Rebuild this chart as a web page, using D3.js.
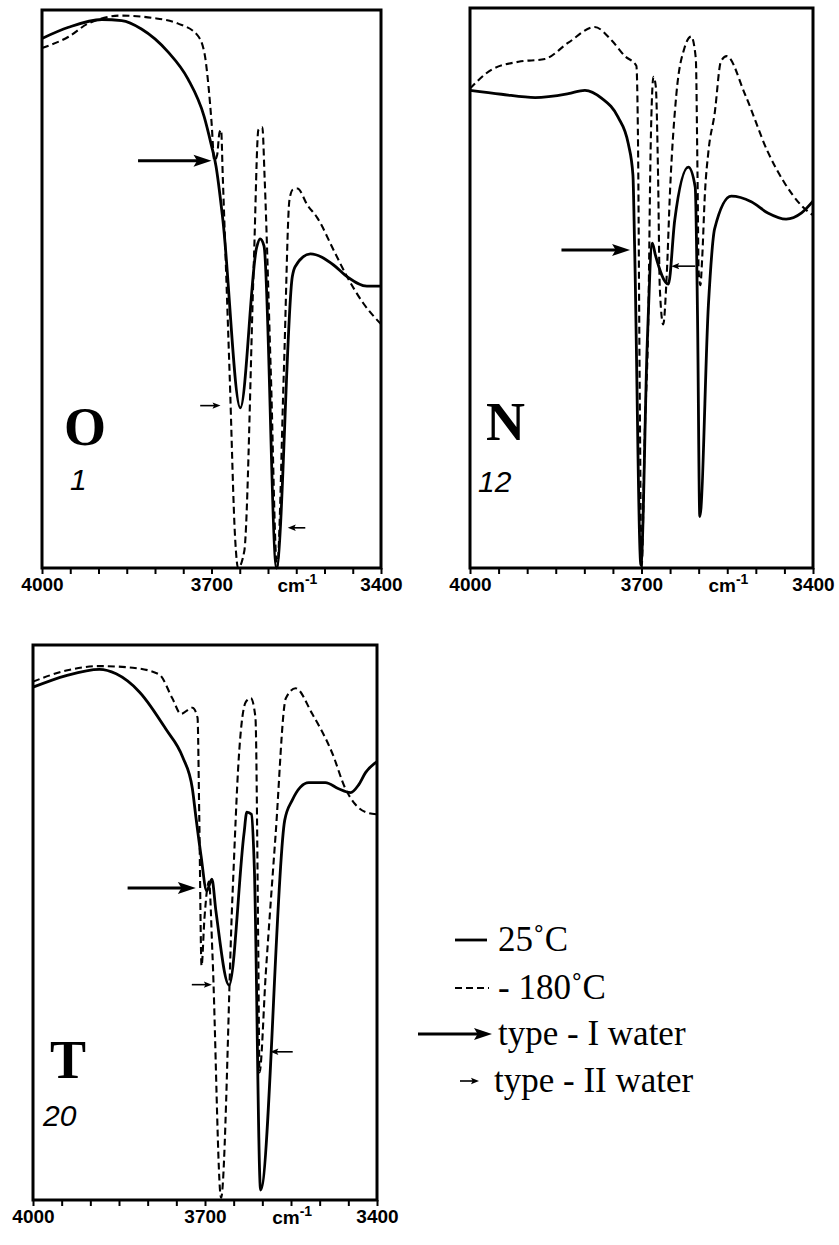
<!DOCTYPE html>
<html lang="en">
<head>
<meta charset="UTF-8">
<title>OH stretching spectra</title>
<script src="https://d3js.org/d3.v7.min.js"></script>
<style>
  body { margin: 0; background: #fff; }
  svg { display: block; }
  .frame { fill: none; stroke: #000; stroke-width: 3; }
  .solid { fill: none; stroke: #000; stroke-width: 2.8; stroke-linejoin: round; }
  .dashed { fill: none; stroke: #000; stroke-width: 2.1; stroke-dasharray: 7,4; }
  .tick line { stroke: #000; stroke-width: 2; }
  .tick text { font-family: "Liberation Sans", Arial, sans-serif; font-weight: bold; font-size: 19px; fill: #000; }
  .domain { display: none; }
  .unit { font-family: "Liberation Sans", Arial, sans-serif; font-weight: bold; font-size: 19px; }
  .letter { font-family: "Liberation Serif", "Times New Roman", serif; font-weight: bold; font-size: 54px; }
  .num { font-family: "Liberation Sans", Arial, sans-serif; font-style: italic; font-size: 30px; }
  .legend { font-family: "Liberation Serif", "Times New Roman", serif; font-size: 35px; }
</style>
</head>
<body>
<div id="chart"></div>
<script>
// wavenumber ticks (cm-1) and which ones get a label
const tickWn = [4000, 3950, 3900, 3850, 3800, 3750, 3700, 3650, 3600, 3550, 3500, 3450, 3400];
const labelWn = [4000, 3700, 3400];

// spectra: [wavenumber, transmittance 0-100 of panel height]
const oSolid = [[4000,94.9],[3953,96.9],[3894,98.3],[3859,98.1],[3824,96.6],[3777,92.5],[3742,87.7],[3713,80.9],
  [3701,76.1],[3692,72],[3680,62.5],[3649,28.7],[3620,57.5],[3614,59],[3607,57.7],[3585,0],[3557,52.2],
  [3552,54],[3525,56.3],[3484,54.3],[3460,52.2],[3425,50.5],[3400,50.5]];
const oDashed = [[4000,93.2],[3953,95.2],[3918,97.6],[3859,99],[3806,98.6],[3760,97.6],[3725,95.5],[3712,92],
  [3705,86],[3700,80],[3695,73],[3690,74],[3686,78],[3683,78.5],[3680,70],[3668,35],[3658,5],[3653,0],
  [3642,3],[3625,55],[3617,78.5],[3610,79],[3606,70],[3595,35],[3584,0],[3572,35],[3562,66],[3556,67.8],
  [3548,68],[3530,65],[3513,62.8],[3484,57],[3460,52.2],[3431,47.4],[3400,43.7]];

const nSolid = [[4000,85.3],[3945,84.6],[3886,84],[3828,84.7],[3799,85.3],[3770,83.9],[3741,80.5],[3723,75.7],
  [3715,70.2],[3712,57.2],[3701,0.5],[3690,40],[3681,58],[3676,56],[3653,50.7],[3642,62],[3618,71.6],
  [3606,68],[3602,45],[3598,9.2],[3583,46.9],[3572,60.6],[3543,66.4],[3508,65.4],[3479,63.4],[3447,62.3],
  [3420,63.4],[3400,65.5]];
const nDashed = [[4000,85.6],[3962,89],[3915,90.4],[3869,90.9],[3828,93.8],[3782,96.6],[3752,94.2],[3729,91.4],
  [3709,89.7],[3706,75],[3703,30],[3700,0],[3694,25],[3688,45],[3684,75],[3679,87.7],[3675,86],[3671,70],
  [3668,50],[3662,43.5],[3656,52],[3650,67.5],[3639,84.6],[3625,92.8],[3613,94.9],[3605,91],[3602,70],
  [3600,53],[3597,50.5],[3594,55],[3589,67],[3583,74.3],[3572,81.2],[3561,90.5],[3551,91.4],[3519,84.6],
  [3479,74.3],[3450,68.8],[3420,64.7],[3400,63]];

const tSolid = [[4000,92.4],[3942,94.5],[3884,95.6],[3855,94.8],[3814,91.5],[3768,84.8],[3739,79.8],[3722,74.1],
  [3716,69.1],[3707,62.1],[3697,55.7],[3688,57.8],[3681,52.1],[3658,38.7],[3632,66],[3627,69.9],
  [3619,69.5],[3614,60],[3603,1.8],[3561,68.4],[3548,72],[3519,75.2],[3490,75.2],[3467,74.1],
  [3446,73.4],[3432,74.8],[3420,77],[3400,79]];
const tDashed = [[4000,93.4],[3942,95.4],[3884,96.2],[3826,95.9],[3780,94.7],[3757,90.4],[3742,87.6],[3722,88.7],
  [3713,86.9],[3710,69.1],[3706,42.2],[3701,50.7],[3693,57.4],[3687,44.3],[3672,0.4],[3652,55],[3641,79.8],
  [3629,89.7],[3620,90.4],[3612,86.9],[3607,44.3],[3605,23],[3594,40.8],[3577,65.6],[3559,90.4],
  [3542,92.2],[3513,87.6],[3478,80.5],[3455,74.1],[3438,71.3],[3420,69.9],[3400,69.5]];

// water arrows: [from wn, to wn, level, kind]
const oArrows = [[3830, 3700, 73, "I"], [3720, 3684, 29.1, "II"], [3534, 3565, 7.2, "II"]];
const nArrows = [[3840, 3720, 56.8, "I"], [3606, 3648, 53.9, "II"]];
const tArrows = [[3835, 3716, 56.2, "I"], [3723, 3688, 38.8, "II"], [3547, 3586, 26.7, "II"]];

const panels = [
  {name: "O", num: "1", box: [42, 381, 10, 568], solid: oSolid, dashed: oDashed, arrows: oArrows,
   letterAt: [22, 123], numAt: [28, 78]},
  {name: "N", num: "12", box: [470, 813, 8, 568], solid: nSolid, dashed: nDashed, arrows: nArrows,
   letterAt: [16, 128], numAt: [8, 76]},
  {name: "T", num: "20", box: [33, 377, 645, 1200], solid: tSolid, dashed: tDashed, arrows: tArrows,
   letterAt: [17, 122], numAt: [10, 74]}
];

const svg = d3.select("#chart").append("svg")
  .attr("width", 839)
  .attr("height", 1245);

function arrow(g, x1, x2, y, kind) {
  const big = kind === "I";
  const len = big ? 18 : 8, hw = big ? 6 : 3.2;
  const dir = x2 > x1 ? 1 : -1;
  g.append("line")
    .attr("x1", x1).attr("x2", x2 - dir * len * 0.6)
    .attr("y1", y).attr("y2", y)
    .attr("stroke", "#000").attr("stroke-width", big ? 3 : 1.6);
  g.append("path")
    .attr("d", `M${x2},${y}L${x2 - dir * len},${y - hw}L${x2 - dir * len * 0.8},${y}L${x2 - dir * len},${y + hw}Z`)
    .attr("fill", "#000");
}

panels.forEach(p => {
  const [l, r, t, b] = p.box;
  const x = d3.scaleLinear().domain([4000, 3400]).range([l, r]);
  const y = d3.scaleLinear().domain([0, 100]).range([b, t]);
  const g = svg.append("g");

  const line = d3.line().x(d => x(d[0])).y(d => y(d[1])).curve(d3.curveMonotoneX);

  g.append("path").datum(p.dashed).attr("class", "dashed").attr("d", line);
  g.append("path").datum(p.solid).attr("class", "solid").attr("d", line);

  g.append("rect").attr("class", "frame")
    .attr("x", l).attr("y", t).attr("width", r - l).attr("height", b - t);

  g.append("g")
    .attr("transform", `translate(0,${b})`)
    .call(d3.axisBottom(x).tickValues(tickWn).tickSize(6).tickPadding(4)
      .tickFormat(d => labelWn.includes(d) ? d : ""));

  const unit = g.append("text").attr("class", "unit")
    .attr("x", x(3548)).attr("y", b + 24).attr("text-anchor", "middle");
  unit.append("tspan").text("cm");
  unit.append("tspan").attr("dy", -8).attr("font-size", 14).text("-1");

  g.append("text").attr("class", "letter")
    .attr("x", l + p.letterAt[0]).attr("y", b - p.letterAt[1]).text(p.name);
  g.append("text").attr("class", "num")
    .attr("x", l + p.numAt[0]).attr("y", b - p.numAt[1]).text(p.num);

  p.arrows.forEach(a => arrow(g, x(a[0]), x(a[1]), y(a[2]), a[3]));
});

// legend
const legendRows = ["25˚C", "- 180˚C", "type - I water", "type - II water"];
const lg = svg.append("g");
const rowY = [940, 988, 1034, 1081];
lg.append("line").attr("x1", 455).attr("x2", 487).attr("y1", rowY[0]).attr("y2", rowY[0])
  .attr("stroke", "#000").attr("stroke-width", 2.8);
lg.append("line").attr("x1", 455).attr("x2", 489).attr("y1", rowY[1]).attr("y2", rowY[1])
  .attr("class", "dashed").attr("stroke-dasharray", "7,5");
arrow(lg, 418, 492, rowY[2], "I");
arrow(lg, 460, 479, rowY[3], "II");
lg.selectAll("text.legend").data(legendRows).enter().append("text")
  .attr("class", "legend")
  .attr("x", (d, i) => i === 3 ? 494 : 498)
  .attr("y", (d, i) => rowY[i] + 11)
  .text(d => d);
</script>
</body>
</html>
